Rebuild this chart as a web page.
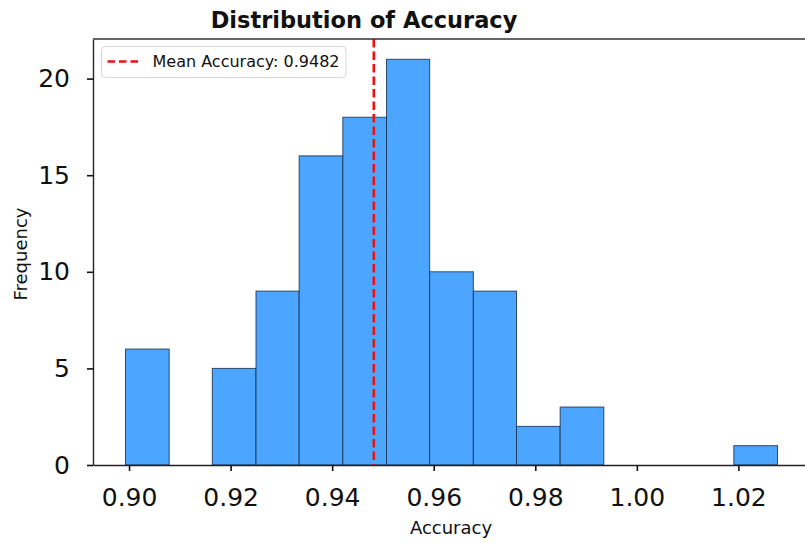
<!DOCTYPE html>
<html>
<head>
<meta charset="utf-8">
<script src="https://cdn.jsdelivr.net/npm/d3@7"></script>
<style>
  html, body { margin: 0; padding: 0; background: white; }
  #chart { width: 805px; height: 543px; overflow: hidden; }
</style>
</head>
<body>
<div id="chart"></div>
<script>
// histogram bins
const binEdges = [
  0.8993, 0.9079, 0.9164, 0.925, 0.9335, 0.9421, 0.9507, 0.9592,
  0.9678, 0.9763, 0.9849, 0.9935, 1.002, 1.0106, 1.0191, 1.0277,
];
const counts = [6, 0, 5, 9, 16, 18, 21, 10, 9, 2, 3, 0, 0, 0, 1];
const meanAccuracy = 0.9482;
const xTicks = [0.9, 0.92, 0.94, 0.96, 0.98, 1.0, 1.02];
const yTicks = [0, 5, 10, 15, 20];

const bins = counts.map((c, i) => ({ x0: binEdges[i], x1: binEdges[i + 1], count: c }));

const width = 805;
const height = 543;
const marginLeft = 93;
const marginTop = 39;
const plotBottom = 465;
const plotRight = 810; // axes run past the right edge of the picture
const font = "DejaVu Sans, sans-serif";

const x = d3
  .scaleLinear()
  .domain([0.8929, 1.0341])
  .range([marginLeft, plotRight]);

const y = d3
  .scaleLinear()
  .domain([0, 22.05])
  .range([plotBottom, marginTop]);

const svg = d3
  .create("svg")
  .attr("width", width)
  .attr("height", height)
  .attr("viewBox", [0, 0, width, height])
  .style("font-family", font);

// bars
svg
  .append("g")
  .selectAll("rect")
  .data(bins.filter((d) => d.count > 0))
  .join("rect")
  .attr("x", (d) => x(d.x0))
  .attr("y", (d) => y(d.count))
  .attr("width", (d) => x(d.x1) - x(d.x0))
  .attr("height", (d) => y(0) - y(d.count))
  .attr("fill", "#4ca6ff")
  .attr("stroke", "#1a3350")
  .attr("stroke-opacity", 0.85)
  .attr("stroke-width", 1);

// mean line
svg
  .append("line")
  .attr("x1", x(meanAccuracy))
  .attr("x2", x(meanAccuracy))
  .attr("y1", marginTop)
  .attr("y2", plotBottom)
  .attr("stroke", "#f01010")
  .attr("stroke-width", 2.6)
  .attr("stroke-dasharray", "8.5,4");

// x axis
svg
  .append("g")
  .attr("transform", `translate(0,${plotBottom})`)
  .call(
    d3
      .axisBottom(x)
      .tickValues(xTicks)
      .tickFormat(d3.format(".2f"))
      .tickSize(6)
      .tickSizeOuter(0)
      .tickPadding(17)
  )
  .attr("font-family", font)
  .call((g) => g.select(".domain").attr("stroke", "#222").attr("stroke-width", 1.4))
  .call((g) => g.selectAll(".tick line").attr("stroke", "#111").attr("stroke-width", 1.6))
  .call((g) =>
    g.selectAll(".tick text").attr("font-size", "25px").attr("fill", "#111")
  );

// y axis
svg
  .append("g")
  .attr("transform", `translate(${marginLeft},0)`)
  .call(
    d3
      .axisLeft(y)
      .tickValues(yTicks)
      .tickSize(6)
      .tickSizeOuter(0)
      .tickPadding(17)
  )
  .attr("font-family", font)
  .call((g) => g.select(".domain").attr("stroke", "#222").attr("stroke-width", 1.4))
  .call((g) => g.selectAll(".tick line").attr("stroke", "#111").attr("stroke-width", 1.6))
  .call((g) =>
    g.selectAll(".tick text").attr("font-size", "25px").attr("fill", "#111")
  );

// top spine
svg
  .append("line")
  .attr("x1", marginLeft)
  .attr("x2", plotRight)
  .attr("y1", marginTop)
  .attr("y2", marginTop)
  .attr("stroke", "#333")
  .attr("stroke-width", 1.4);

// title
svg
  .append("text")
  .attr("x", 364)
  .attr("y", 28)
  .attr("text-anchor", "middle")
  .attr("font-size", "22.5px")
  .attr("font-weight", "bold")
  .attr("fill", "#111")
  .text("Distribution of Accuracy");

// axis labels
svg
  .append("text")
  .attr("x", 451)
  .attr("y", 534)
  .attr("text-anchor", "middle")
  .attr("font-size", "18px")
  .attr("fill", "#111")
  .text("Accuracy");

svg
  .append("text")
  .attr("transform", "rotate(-90)")
  .attr("x", -254)
  .attr("y", 27)
  .attr("text-anchor", "middle")
  .attr("font-size", "18px")
  .attr("fill", "#111")
  .text("Frequency");

// legend
const legend = svg.append("g").attr("transform", "translate(101.5,46.5)");
legend
  .append("rect")
  .attr("width", 244.5)
  .attr("height", 31)
  .attr("rx", 4)
  .attr("fill", "white")
  .attr("fill-opacity", 0.8)
  .attr("stroke", "#d6d6d6");
legend
  .append("line")
  .attr("x1", 6)
  .attr("x2", 39)
  .attr("y1", 15)
  .attr("y2", 15)
  .attr("stroke", "#f01010")
  .attr("stroke-width", 2.4)
  .attr("stroke-dasharray", "7.5,4");
legend
  .append("text")
  .attr("x", 51)
  .attr("y", 20.5)
  .attr("font-size", "16px")
  .attr("fill", "#111")
  .text(`Mean Accuracy: ${meanAccuracy}`);

document.getElementById("chart").append(svg.node());
</script>
</body>
</html>
